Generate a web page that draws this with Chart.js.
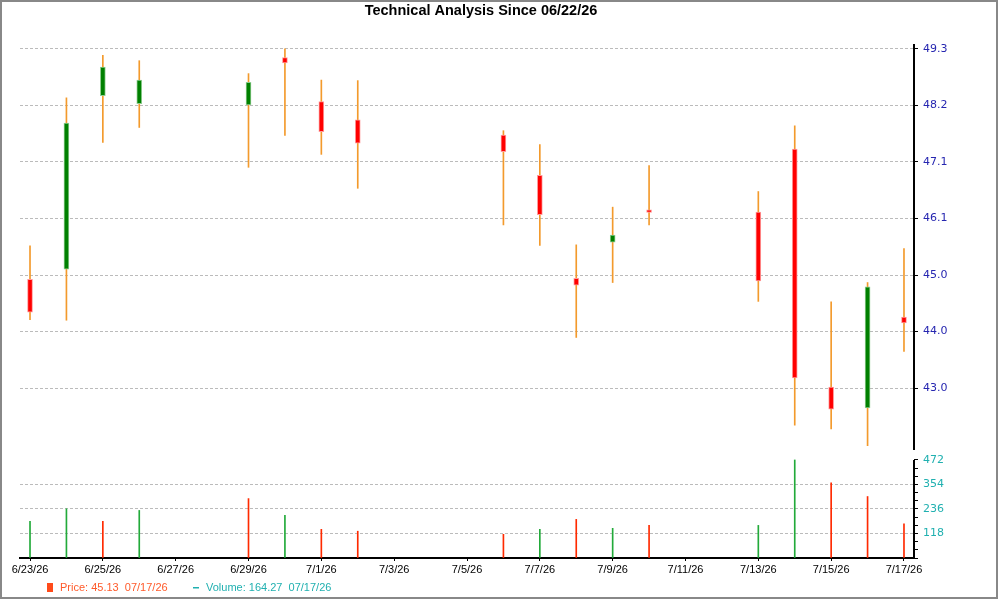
<!DOCTYPE html>
<html>
<head>
<meta charset="utf-8">
<title>Technical Analysis</title>
<script src="https://cdn.jsdelivr.net/npm/chart.js@4.4.1/dist/chart.umd.min.js"></script>
<style>
  html, body { margin: 0; padding: 0; background: #fff; }
  canvas { display: block; }
</style>
</head>
<body>
<canvas id="chart" width="1000" height="600"></canvas>
<script>
// daily candles
const dates = ['6/23/26', '6/24/26', '6/25/26', '6/26/26', '6/29/26', '6/30/26', '7/1/26', '7/2/26', '7/6/26',
               '7/7/26', '7/8/26', '7/9/26', '7/10/26', '7/13/26', '7/14/26', '7/15/26', '7/16/26', '7/17/26'];
const opens  = [44.97, 45.16, 48.38, 48.23, 48.21, 49.09, 48.27, 47.93, 47.65, 46.90, 44.99, 45.66, 46.26, 46.22, 47.39, 42.97, 42.58, 44.27];
const highs  = [45.59, 48.34, 49.13, 49.03, 48.79, 49.25, 48.67, 48.66, 47.73, 47.47, 45.61, 46.31, 47.08, 46.60, 47.82, 44.55, 44.91, 45.54];
const lows   = [44.22, 44.21, 47.51, 47.79, 47.05, 47.64, 47.29, 46.66, 45.98, 45.60, 43.89, 44.91, 45.98, 44.56, 42.26, 42.19, 41.88, 43.63];
const closes = [44.36, 47.87, 48.91, 48.67, 48.63, 48.99, 47.71, 47.50, 47.34, 46.17, 44.86, 45.79, 46.21, 44.94, 43.14, 42.56, 44.83, 44.16];
const volumes  = [176, 237, 176, 229, 286, 205, 138, 129, 114, 138, 186, 143, 157, 157, 472, 362, 296, 164.27];
const volumeUp = [true, true, false, true, false, true, false, false, false, true, false, true, false, true, true, false, false, false];

const dateTicks = ['6/23/26', '6/25/26', '6/27/26', '6/29/26', '7/1/26', '7/3/26', '7/5/26',
                   '7/7/26', '7/9/26', '7/11/26', '7/13/26', '7/15/26', '7/17/26'];
const priceTicks = [42.95, 44.00, 45.05, 46.10, 47.15, 48.20, 49.25];
const priceTickLabels = ['43.0', '44.0', '45.0', '46.1', '47.1', '48.2', '49.3'];
const volumeTicks = [118, 236, 354, 472];

const titleText = 'Technical Analysis Since 06/22/26';
const lastPrice = '45.13';
const lastVolume = '164.27';
const lastDate = '07/17/26';

// days since the first date, so weekends leave gaps
function dayIndex(s) {
    const p = s.split('/').map(Number);
    const q = dates[0].split('/').map(Number);
    return (Date.UTC(2000 + p[2], p[0] - 1, p[1]) - Date.UTC(2000 + q[2], q[0] - 1, q[1])) / 86400000;
}

const RED = '#ff0000', GREEN = '#008000';
const bodies = dates.map((d, i) => ({ x: dayIndex(d), y: [opens[i], closes[i]] }));
const wicks = dates.map((d, i) => ({ x: dayIndex(d), y: [lows[i], highs[i]] }));
const vols = dates.map((d, i) => ({ x: dayIndex(d), y: volumes[i] }));

Chart.defaults.font.family = '"Liberation Sans", Arial, sans-serif';

const extras = {
    id: 'extras',
    afterDraw(chart) {
        const ctx = chart.ctx;
        const area = chart.chartArea;
        const yp = chart.scales.y, yv = chart.scales.yv;
        ctx.save();

        // title
        ctx.fillStyle = '#000';
        ctx.font = 'bold 14.5px "Liberation Sans", Arial, sans-serif';
        ctx.textAlign = 'center';
        ctx.textBaseline = 'middle';
        ctx.fillText(titleText, 481, 10.5);

        // right axis lines (price and volume panels)
        ctx.strokeStyle = '#000';
        ctx.lineWidth = 2;
        ctx.beginPath();
        ctx.moveTo(area.right, yp.top);
        ctx.lineTo(area.right, yp.bottom);
        ctx.moveTo(area.right, yv.getPixelForValue(volumeTicks[volumeTicks.length - 1]));
        ctx.lineTo(area.right, yv.bottom + 1);
        ctx.stroke();

        // legend
        ctx.textAlign = 'left';
        ctx.font = '11px "Liberation Sans", Arial, sans-serif';
        ctx.fillStyle = '#ff4a1a';
        ctx.fillRect(47, 583, 6, 9);
        ctx.fillStyle = '#ff5a2a';
        ctx.fillText('Price: ' + lastPrice + '  ' + lastDate, 60, 587.5);
        ctx.fillStyle = '#20b0b0';
        ctx.fillRect(193, 587, 6, 1.5);
        ctx.fillText('Volume: ' + lastVolume + '  ' + lastDate, 206, 587.5);

        // frame
        ctx.strokeStyle = '#888';
        ctx.lineWidth = 2;
        ctx.strokeRect(1, 1, 996, 597);
        ctx.restore();
    }
};

new Chart(document.getElementById('chart'), {
    type: 'bar',
    data: {
        datasets: [
            {
                label: 'Body',
                data: bodies,
                yAxisID: 'y',
                order: 0,
                barThickness: 5,
                backgroundColor: closes.map((c, i) => c >= opens[i] ? GREEN : RED),
                borderColor: closes.map((c, i) => c >= opens[i] ? '#8fcc8f' : '#ff9a9a'),
                borderWidth: 1,
                borderSkipped: false
            },
            {
                label: 'Wick',
                data: wicks,
                yAxisID: 'y',
                order: 1,
                barThickness: 1,
                backgroundColor: '#f39a2c'
            },
            {
                label: 'Volume',
                data: vols,
                yAxisID: 'yv',
                order: 2,
                barThickness: 1,
                backgroundColor: volumeUp.map(u => u ? '#22aa3a' : '#ff2a00')
            }
        ]
    },
    options: {
        responsive: false,
        animation: false,
        grouped: false,
        layout: { padding: { top: 44, left: 20, right: 0, bottom: 0 } },
        plugins: {
            legend: { display: false },
            title: { display: false },
            tooltip: { enabled: false }
        },
        scales: {
            x: {
                type: 'linear',
                min: -0.275,
                max: 24.275,
                offset: false,
                afterFit: (s) => { s.height = 42; },
                afterBuildTicks: (s) => { s.ticks = dateTicks.map(t => ({ value: dayIndex(t) })); },
                ticks: {
                    autoSkip: false,
                    maxRotation: 0,
                    padding: 2,
                    color: '#000',
                    font: { size: 11 },
                    callback: (v, i) => dateTicks[i]
                },
                grid: { offset: false, drawOnChartArea: false, drawTicks: true, tickLength: 3, tickColor: '#000' },
                border: { display: true, color: '#000', width: 2 }
            },
            y: {
                position: 'right',
                stack: 'panels',
                stackWeight: 406,
                min: 41.80,
                max: 49.34,
                afterFit: (s) => { s.width = 86; },
                afterBuildTicks: (s) => { s.ticks = priceTicks.map(v => ({ value: v })); },
                ticks: {
                    autoSkip: false,
                    padding: 5,
                    color: '#2626b0',
                    font: { family: '"DejaVu Sans", Verdana, sans-serif', size: 11 },
                    callback: (v, i) => priceTickLabels[i]
                },
                grid: { color: '#bbbbbb', lineWidth: 1, tickLength: 4, tickColor: '#000', tickBorderDash: [] },
                border: { display: false, dash: [3, 2] }
            },
            yv: {
                position: 'right',
                stack: 'panels',
                stackWeight: 108,
                min: 0,
                max: 520,
                afterFit: (s) => { s.width = 86; },
                afterBuildTicks: (s) => {
                    const step = volumeTicks[0] / 3;
                    const top = volumeTicks[volumeTicks.length - 1];
                    const t = [];
                    for (let v = 0; v <= top + 0.01; v += step) t.push({ value: v });
                    s.ticks = t;
                },
                ticks: {
                    autoSkip: false,
                    padding: 5,
                    color: '#20b0b0',
                    font: { family: '"DejaVu Sans", Verdana, sans-serif', size: 11 },
                    callback: (v, i) => (i > 0 && i % 3 === 0) ? String(volumeTicks[i / 3 - 1]) : ''
                },
                grid: {
                    color: (c) => (c.index > 0 && c.index % 3 === 0 && c.index < volumeTicks.length * 3) ? '#bbbbbb' : 'rgba(0,0,0,0)',
                    lineWidth: 1,
                    tickLength: 4,
                    tickColor: '#000',
                    tickBorderDash: []
                },
                border: { display: false, dash: [3, 2] }
            }
        }
    },
    plugins: [extras]
});
</script>
</body>
</html>
